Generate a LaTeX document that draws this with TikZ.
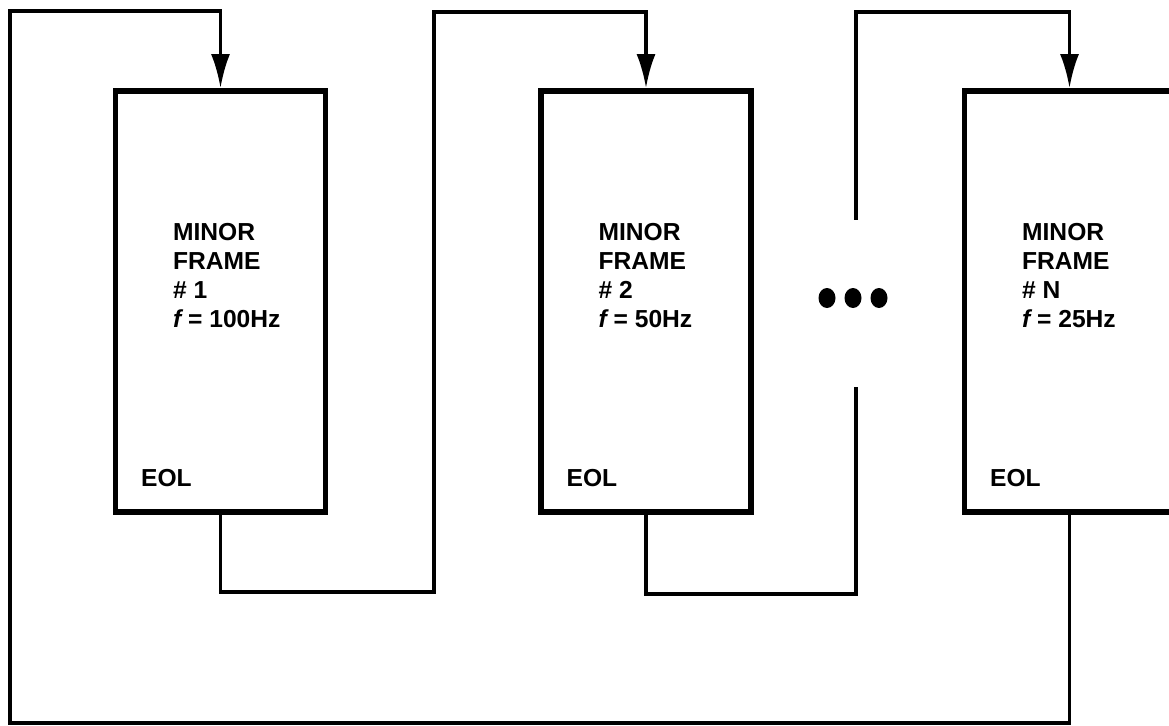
\documentclass[tikz,border=0pt]{standalone}
\usepackage{fontspec}
\setmainfont{Liberation Sans}
\usetikzlibrary{arrows.meta,calc}

\tikzset{
  minorbox/.style={draw,line width=3.1pt,minimum width=4.2cm,minimum height=8.43cm,inner sep=0pt},
  wire/.style={line width=1.9pt},
  feedwire/.style={wire,-{Latex[length=6.8mm,width=3.8mm]}},
  boxtxt/.style={font=\fontsize{14}{16.5}\selectfont\bfseries,align=left,inner sep=0pt}
}

\begin{document}
\begin{tikzpicture}[x=0.02cm,y=-0.02cm]
\useasboundingbox (0,0) rectangle (1169,726);
\clip (0,0) rectangle (1169,726);
% the minor frames
\foreach \n/\x/\k/\fq in {f1/220.5/1/100,f2/646/2/50,fN/1069.5/N/25}{
  \node[minorbox] (\n) at (\x,301.5) {};
  \node[boxtxt,anchor=north west] (\n-txt) at ($(\n.north west)+(60,135)$) {MINOR\\FRAME\\\# \k\\{\itshape f} = \fq Hz};
  \node[boxtxt,anchor=base west] (\n-eol) at ($(\n.south west)+(28,-28)$) {EOL};
}
% loop back from the last frame
\coordinate (bl) at (10,723);
\coordinate (tl) at (10,11);
\draw[feedwire] (fN.south) |- (bl) -- (tl) -| (f1.north);
% frame 1 to frame 2
\coordinate (r1) at (434,592);
\coordinate (t1) at (434,12);
\draw[feedwire] (f1.south) |- (r1) -- (t1) -| (f2.north);
% frame 2 to frame N, broken
\coordinate (r2) at (856,594);
\coordinate (g2) at (856,387);
\coordinate (g1) at (856,220);
\coordinate (t2) at (856,12);
\draw[wire] (f2.south) |- (r2) -- (g2);
\draw[feedwire] (g1) -- (t2) -| (fN.north);
\foreach \x in {827,853,879} {\fill (\x,298) ellipse[x radius=8.5,y radius=10];}
\end{tikzpicture}
\end{document}
